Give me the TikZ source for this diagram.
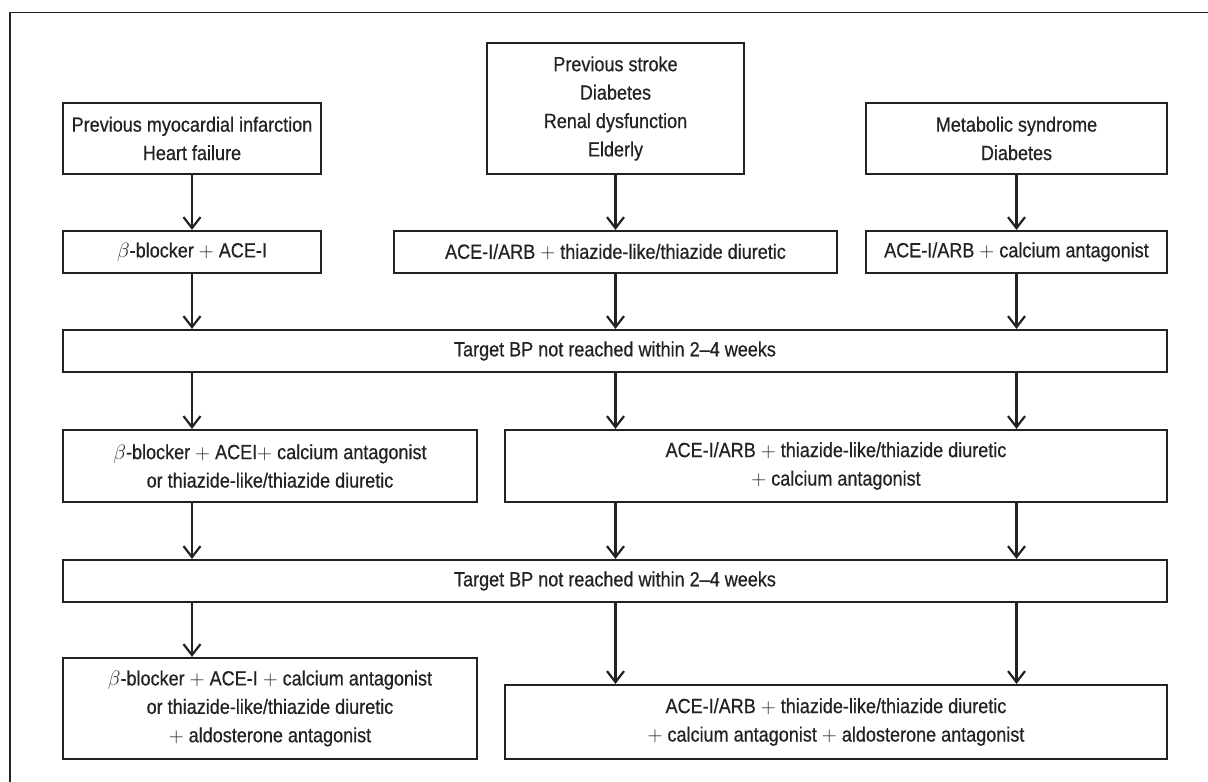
\documentclass[tikz,border=0pt]{standalone}
\usepackage{fontspec}
\setmainfont{Liberation Sans}[FakeStretch=0.88,FakeBold=0.6]
\usetikzlibrary{arrows.meta}
\definecolor{ink}{HTML}{222222}
\tikzset{
  box/.style={draw=ink, line width=2.2pt, inner sep=0pt, align=center,
    text=ink, font=\fontsize{20.5}{28.4}\selectfont},
  arr/.style={draw=ink, line width=2.2pt,
    -{Straight Barb[length=11pt,width=17pt,line width=2.2pt]}},
  frame/.style={draw=ink, line width=1.5pt}
}
\begin{document}
\begin{tikzpicture}[x=1pt,y=-1pt]
\useasboundingbox (0,0) rectangle (1208,782);
\draw[frame] (10,782) -- (10,12.5) -- (1208,12.5);

% row 1
\node[box, minimum width=258pt, minimum height=71pt] (a1) at (192,138.5)
  {Previous myocardial infarction\\Heart failure};
\node[box, minimum width=257pt, minimum height=131pt] (b1) at (615.5,108.5)
  {Previous stroke\\Diabetes\\Renal dysfunction\\Elderly};
\node[box, minimum width=301pt, minimum height=71pt] (c1) at (1016.5,138.5)
  {Metabolic syndrome\\Diabetes};

% row 2
\node[box, minimum width=258pt, minimum height=42pt] (a2) at (192,252)
  {$\beta$-blocker $+$ ACE-I};
\node[box, minimum width=443pt, minimum height=42pt] (b2) at (615.5,252)
  {ACE-I/ARB $+$ thiazide-like/thiazide diuretic};
\node[box, minimum width=301pt, minimum height=42pt] (c2) at (1016.5,252)
  {ACE-I/ARB $+$ calcium antagonist};

% target 1
\node[box, minimum width=1104pt, minimum height=42pt] (t1) at (615,351)
  {Target BP not reached within 2--4 weeks};

% row 3
\node[box, minimum width=414pt, minimum height=72pt] (a3) at (270,466)
  {$\beta$-blocker $+$ ACEI$+$ calcium antagonist\\or thiazide-like/thiazide diuretic};
\node[box, minimum width=662pt, minimum height=72pt] (b3) at (836,466)
  {ACE-I/ARB $+$ thiazide-like/thiazide diuretic\\$+$ calcium antagonist};

% target 2
\node[box, minimum width=1104pt, minimum height=42pt] (t2) at (615,581)
  {Target BP not reached within 2--4 weeks};

% row 4
\node[box, minimum width=414pt, minimum height=101pt] (a4) at (270,708.5)
  {$\beta$-blocker $+$ ACE-I $+$ calcium antagonist\\or thiazide-like/thiazide diuretic\\$+$ aldosterone antagonist};
\node[box, minimum width=662pt, minimum height=74pt] (b4) at (836,722)
  {ACE-I/ARB $+$ thiazide-like/thiazide diuretic\\$+$ calcium antagonist $+$ aldosterone antagonist};

% arrows row1 -> row2
\draw[arr] (a1.south) -- (a2.north);
\draw[arr] (b1.south) -- (b2.north);
\draw[arr] (c1.south) -- (c2.north);
% row2 -> target1
\draw[arr] (a2.south) -- (a2.south |- t1.north);
\draw[arr] (b2.south) -- (b2.south |- t1.north);
\draw[arr] (c2.south) -- (c2.south |- t1.north);
% target1 -> row3
\draw[arr] (t1.south -| a2.south) -- (a3.north -| a2.south);
\draw[arr] (t1.south -| b2.south) -- (b3.north -| b2.south);
\draw[arr] (t1.south -| c2.south) -- (b3.north -| c2.south);
% row3 -> target2
\draw[arr] (a3.south -| a2.south) -- (t2.north -| a2.south);
\draw[arr] (b3.south -| b2.south) -- (t2.north -| b2.south);
\draw[arr] (b3.south -| c2.south) -- (t2.north -| c2.south);
% target2 -> row4
\draw[arr] (t2.south -| a2.south) -- (a4.north -| a2.south);
\draw[arr] (t2.south -| b2.south) -- (b4.north -| b2.south);
\draw[arr] (t2.south -| c2.south) -- (b4.north -| c2.south);
\end{tikzpicture}
\end{document}
